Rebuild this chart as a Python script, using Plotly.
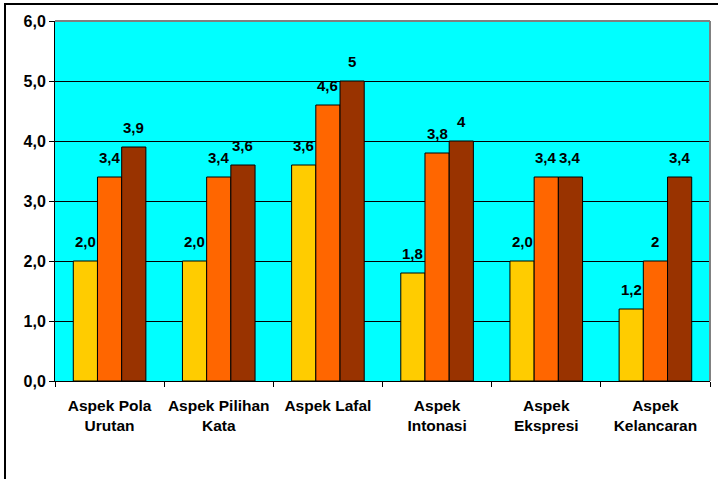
import plotly.graph_objects as go

categories = ["Aspek Pola<br>Urutan", "Aspek Pilihan<br>Kata", "Aspek Lafal",
              "Aspek<br>Intonasi", "Aspek<br>Ekspresi", "Aspek<br>Kelancaran"]
series1 = [2.0, 2.0, 3.6, 1.8, 2.0, 1.2]
series2 = [3.4, 3.4, 4.6, 3.8, 3.4, 2.0]
series3 = [3.9, 3.6, 5.0, 4.0, 3.4, 3.4]
labels1 = ["2,0", "2,0", "3,6", "1,8", "2,0", "1,2"]
labels2 = ["3,4", "3,4", "4,6", "3,8", "3,4", "2"]
labels3 = ["3,9", "3,6", "5", "4", "3,4", "3,4"]
colors = ["#FFCC00", "#FF6600", "#993300"]
yticks = [0, 1, 2, 3, 4, 5, 6]

W, H = 718, 479
ML, MR, MT, MB = 55, 8, 21, 98
BARGAP = 0.335
FONT = "Liberation Sans, Arial, sans-serif"

fig = go.Figure()
for vals, col in zip([series1, series2, series3], colors):
    fig.add_trace(go.Bar(x=categories, y=vals, marker=dict(color=col, line=dict(color="black", width=1)),
                         showlegend=False))

plot_w = W - ML - MR
bar_px = plot_w / len(categories) * (1 - BARGAP) / 3
annotations = []
for i, (vals, labs) in enumerate(zip([series1, series2, series3], [labels1, labels2, labels3])):
    for c, v, t in zip(categories, vals, labs):
        annotations.append(dict(x=c, y=v, text=t, showarrow=False, xanchor="center", yanchor="bottom",
                                xshift=(i - 1) * bar_px, yshift=9,
                                font=dict(family=FONT, size=15, color="black", weight="bold")))

fig.update_layout(
    width=W, height=H, autosize=False,
    margin=dict(l=ML, r=MR, t=MT, b=MB, pad=0),
    paper_bgcolor="white", plot_bgcolor="#00FFFF",
    barmode="group", bargap=BARGAP, bargroupgap=0,
    separators=",.",
    font=dict(family=FONT, color="black"),
    annotations=annotations,
    xaxis=dict(showgrid=False, showline=True, linecolor="black", linewidth=1,
               ticks="outside", tickson="boundaries", ticklen=5, tickcolor="black",
               ticklabelstandoff=10, tickangle=0, automargin=False,
               tickfont=dict(family=FONT, size=15.5, color="black", weight="bold")),
    yaxis=dict(range=[0, 6], tickvals=yticks, tickformat=".1f", showgrid=True, gridcolor="black",
               gridwidth=1, showline=True, linecolor="black", linewidth=1, zeroline=False,
               ticks="outside", ticklen=5, tickcolor="black", automargin=False,
               tickfont=dict(family=FONT, size=16, color="black", weight="bold")),
    shapes=[
        dict(type="line", xref="paper", yref="paper", x0=0, x1=1, y0=1, y1=1,
             line=dict(color="#808080", width=2), layer="above"),
        dict(type="line", xref="paper", yref="paper", x0=1, x1=1, y0=0, y1=1,
             line=dict(color="#808080", width=2), layer="above"),
        dict(type="rect", xref="paper", yref="paper",
             x0=(5 - ML) / plot_w, x1=(W + 20 - ML) / plot_w,
             y0=(H - MB - H - 20) / (H - MT - MB), y1=(H - MB - 4) / (H - MT - MB),
             line=dict(color="black", width=2), layer="below"),
    ],
)

fig.write_html("out.html")
